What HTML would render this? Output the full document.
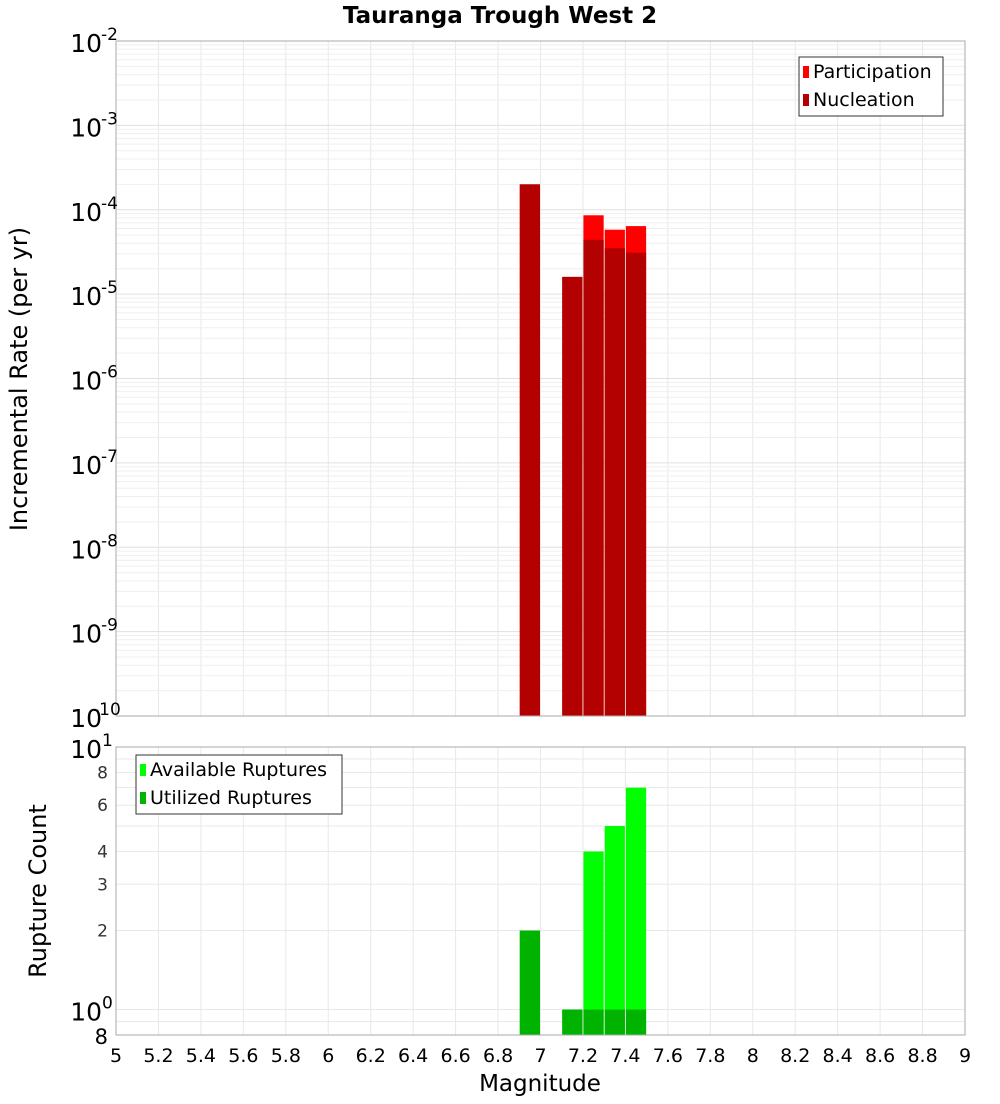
<!DOCTYPE html>
<html><head><meta charset="utf-8"><style>
body{margin:0;background:#fff;font-family:"DejaVu Sans","Liberation Sans",sans-serif}
</style></head><body>
<svg id="c" width="1000" height="1100" xmlns="http://www.w3.org/2000/svg" font-family="DejaVu Sans, Liberation Sans, sans-serif"></svg>
<script>
const mags=[6.95,7.15,7.25,7.35,7.45];
const participation=[2.0e-4,1.6e-5,8.6e-5,5.8e-5,6.4e-5];
const nucleation=[2.0e-4,1.6e-5,4.4e-5,3.5e-5,3.1e-5];
const available=[2,1,4,5,7];
const utilized=[2,1,1,1,1];
const xTicks=[5,5.2,5.4,5.6,5.8,6,6.2,6.4,6.6,6.8,7,7.2,7.4,7.6,7.8,8,8.2,8.4,8.6,8.8,9];
const topExp=[-2,-3,-4,-5,-6,-7,-8,-9,-10];
const botTicks=[8,6,4,3,2];

const svg=document.getElementById('c');const NS='http://www.w3.org/2000/svg';
function el(t,a,p){const e=document.createElementNS(NS,t);for(const k in a)e.setAttribute(k,a[k]);(p||svg).appendChild(e);return e;}
const L=116,R=965,T1=41,B1=716,T2=747,B2=1035;
const x=m=>L+(m-5)/4*(R-L);
const y1=v=>T1+(-2-Math.log10(v))/8*(B1-T1);
const lo=Math.log10(0.8);
const y2=v=>T2+(1-Math.log10(v))/(1-lo)*(B2-T2);

const g=el('g',{});
xTicks.forEach(t=>{el('line',{x1:x(t),x2:x(t),y1:T1,y2:B1,stroke:'#e8e8e8'},g);el('line',{x1:x(t),x2:x(t),y1:T2,y2:B2,stroke:'#e8e8e8'},g);});
for(let e=-10;e<-2;e++)for(let k=1;k<10;k++){const yy=y1(k*Math.pow(10,e));el('line',{x1:L,x2:R,y1:yy,y2:yy,stroke:k==1?'#e0e0e0':'#efefef'},g);}
for(let k=1;k<=10;k++){const yy=y2(k);el('line',{x1:L,x2:R,y1:yy,y2:yy,stroke:'#e8e8e8'},g);}
el('line',{x1:L,x2:R,y1:y2(0.9),y2:y2(0.9),stroke:'#e8e8e8'},g);

const w=(R-L)/40;
mags.forEach((m,i)=>{
 let b=el('rect',{x:x(m)-w/2+0.5,y:y1(participation[i]),width:w-1,height:B1-y1(participation[i]),fill:'#ff0000'});
 
 b=el('rect',{x:x(m)-w/2+0.5,y:y1(nucleation[i]),width:w-1,height:B1-y1(nucleation[i]),fill:'#b30000'});
 
 b=el('rect',{x:x(m)-w/2+0.5,y:y2(available[i]),width:w-1,height:B2-y2(available[i]),fill:'#00ff00'});
 
 b=el('rect',{x:x(m)-w/2+0.5,y:y2(utilized[i]),width:w-1,height:B2-y2(utilized[i]),fill:'#00b300'});
 
});
el('rect',{x:L,y:T1,width:R-L,height:B1-T1,fill:'none',stroke:'#aaa'});
el('rect',{x:L,y:T2,width:R-L,height:B2-T2,fill:'none',stroke:'#aaa'});

topExp.forEach(e=>{const yy=y1(Math.pow(10,e));
 const t=el('text',{x:102,y:yy+11,'text-anchor':'end','font-size':25,fill:'#000'});t.textContent='10';
 
 const s=el('text',{x:e==-10?93:101,y:yy-1,'font-size':17,fill:'#000'});s.textContent=String(e);});
let t=el('text',{x:102,y:y2(10)+11,'text-anchor':'end','font-size':25});t.textContent='10';
el('text',{x:102,y:y2(10)-1,'font-size':17}).textContent='1';
t=el('text',{x:102,y:y2(1)+11,'text-anchor':'end','font-size':25});t.textContent='10';
el('text',{x:102,y:y2(1)-1,'font-size':17}).textContent='0';
botTicks.forEach(v=>{const tt=el('text',{x:108,y:y2(v)+6,'text-anchor':'end','font-size':17,fill:'#333'});tt.textContent=v;
 });
el('text',{x:108,y:B2+9,'text-anchor':'end','font-size':21}).textContent='8';
xTicks.forEach(v=>{const tt=el('text',{x:x(v),y:1062,'text-anchor':'middle','font-size':19});tt.textContent=v;
 });

t=el('text',{x:540,y:1091,'text-anchor':'middle','font-size':23});t.textContent='Magnitude';

t=el('text',{x:500,y:23,'text-anchor':'middle','font-size':23,'font-weight':'bold'});t.textContent='Tauranga Trough West 2';

t=el('text',{x:27,y:379,'text-anchor':'middle','font-size':24,transform:'rotate(-90 27 379)'});t.textContent='Incremental Rate (per yr)';

t=el('text',{x:46,y:891,'text-anchor':'middle','font-size':24,transform:'rotate(-90 46 891)'});t.textContent='Rupture Count';


function legend(x0,y0,wd,items,name){const lg=el('g',{});
 el('rect',{x:x0,y:y0,width:wd,height:59,fill:'#fff',stroke:'#333'},lg);
 items.forEach((it,i)=>{el('rect',{x:x0+4,y:y0+9+i*28,width:6,height:12,fill:it[1]},lg);
 const tx=el('text',{x:x0+14,y:y0+21+i*28,'font-size':19},lg);tx.textContent=it[0];});}
legend(799,57,144,[['Participation','#ff0000'],['Nucleation','#b30000']],'legend-top');
legend(136,755,206,[['Available Ruptures','#00ff00'],['Utilized Ruptures','#00b300']],'legend-bottom');
</script></body></html>
